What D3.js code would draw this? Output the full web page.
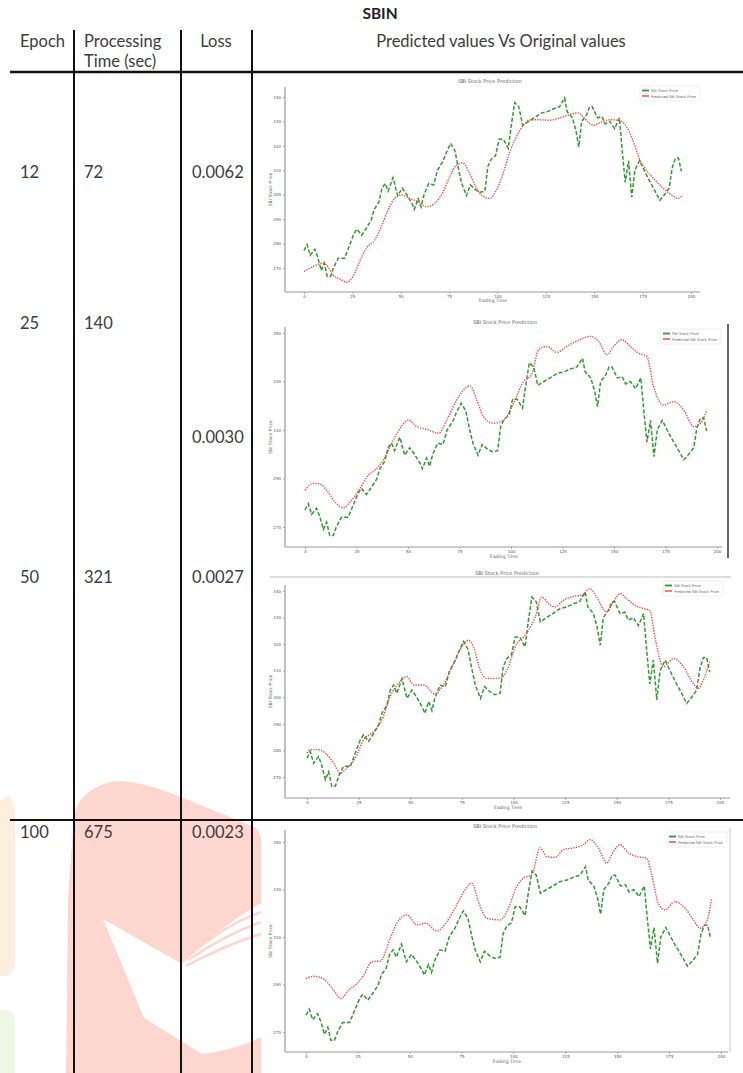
<!DOCTYPE html>
<head>
<meta charset="utf-8">
<style>
body { margin: 0; background: #fff; }
svg { display: block; }
.cell { font-family: Lato, "Open Sans", sans-serif; font-size: 16.5px; fill: #3c3c3c; }
.tiny { font-family: "DejaVu Sans", sans-serif; fill: #666; }
.axis text { font-family: "DejaVu Sans", sans-serif; font-size: 4px; fill: #555; }
.axis line { stroke: #777; stroke-width: 0.6; }
</style>
</head>
<body>
<svg width="743" height="1073"></svg>
<script src="https://cdn.jsdelivr.net/npm/d3@7"></script>
<script>
// table contents
var epochs = ["12", "25", "50", "100"];
var procTimes = ["72", "140", "321", "675"];
var losses = ["0.0062", "0.0030", "0.0027", "0.0023"];

// SBI price, original series (same test set in every chart)
var actualDays = [0,1.6,3.2,5.6,7.3,8.9,10.5,12,13.7,15.3,17.7,21,23.4,25.8,27.4,29.8,32,34.7,36.3,38.7,40.3,42,43.5,46,48.4,50.8,53,56,57,59,60.5,62,64.5,67,69,72,73.4,75.8,78,80,81.5,84,86,88.7,91,93.5,95,96.8,99,100.8,103,105.6,107,108.9,111,113,116,119,122.6,125.8,129,132,134.7,136,138.7,140.6,142,143.5,146,147.6,149,151.6,154,155.6,158,160.5,163,164.5,166,167.7,169.4,171,173.4,175.8,178,180.6,183.9,186.3,188.7,190.3,192,193.5,195];
var actualPrice = [277.1,279.6,275.2,277.7,274,269,272,266.5,266.5,270.2,274,274,279,284,285.9,283.4,286,289.6,294,297,302.7,304.6,301.5,307,299.6,302.7,300.2,296,294,298.4,295,300,304.6,304,310,314,317,321,318,310,304.6,299.6,304,302,301,301.5,311.5,314.6,316,322.7,322.7,319,327.7,337.7,336,328.4,330,331.5,333.4,334,335.2,336,339.6,334,331.5,326,319.6,330,332.7,336,336,331.5,332,329,330,327,331.5,317.7,305,314,299,310,314,310,306.5,302.7,297.7,300,302.7,311,315,315,309.6];

// predicted series, one per epoch setting
var pred12Days = [0,4.7,9.8,11.5,15,19.3,21.9,25.3,28.8,32.2,36.6,40,43.4,46.9,50.3,54.7,59,63.3,67.6,71.9,75.3,78.8,82.2,84.8,88.3,91.7,96,99.5,102.9,106.4,109.8,113.3,116.7,120.2,127,132,137.4,141.7,145,149.5,153.8,158,162.4,166.7,170,173.6,177,181.4,185.7,190,193.4,195.7];
var pred12 = [268.6,270.6,272,271.3,267.2,265.2,264.1,266.5,272.7,278.1,281.5,287,293.7,298.5,299.9,298.5,297.1,295.1,296.5,301.2,307.3,312.1,313,310,304,299.9,298.5,302,308.7,317.6,323.7,328.4,330.5,330.7,330.5,331.4,332.8,333.5,331.2,328.4,329.8,330.7,330.5,327.8,322.3,314.1,310,306,302.6,299.9,298.5,299.9];

var pred25Days = [0,4,7.3,10.5,14.6,18.6,21.9,26.7,30.8,34,38,42.9,47,50.2,54.3,59.1,64.8,68.8,73.7,77.7,80.2,83.4,86.6,91.5,96.4,101.2,106.1,110,113.4,117.4,122.3,127.1,132.8,138.5,142.5,146.6,149.8,153.8,157.9,161.9,166,169.2,174.1,179,183.8,188.7,192,195.1];
var pred25 = [285.2,288,287.7,285.2,280.3,277.9,280.3,285.9,291.4,293.4,297.6,305.9,311.7,314.1,311.4,310.3,308.6,314.1,322.4,327.2,328.2,322.4,315.5,312.8,314.1,321,330,332.8,343.1,344.5,342,344.5,347,348.6,346.6,341,344.5,347.2,344.5,341.7,340.3,328,320.3,321.7,318.3,311.4,312.8,318.3];

var pred50Days = [0,1.6,4.8,8.9,12.9,16.1,19.4,23.4,27.4,32.3,36.3,40.3,45.2,48.4,51.6,56.5,62,66,71,75,78.2,80.6,83.9,87,93.5,96.8,101.6,104.8,107.3,110.5,113.7,117,120,124.2,129,133,137,140.3,145,148.4,151.6,154.8,158.9,163,166,168.5,172.6,177.4,182.3,187,189.5,191.9,195];
var pred50 = [279,280.3,280.3,279,275.3,271.5,273.4,277.1,284,287.1,291.5,300.3,306,307.8,304.6,304.6,301.2,304.6,312.8,319,321.5,319,310.2,307.1,307.1,310.2,320.2,322.7,325.2,330.2,337.7,335.2,334,336.5,338,338.4,340.9,337.7,332.1,336,339,337.1,334.6,333.4,332.7,322.7,311.5,314.6,311.5,305.2,303.4,306.5,313.4];

var pred100Days = [0,3.7,9.3,13.3,16.9,20.5,24.6,27.8,31.8,35.8,40.6,43.8,48.6,53.5,57.5,63.1,67.9,72.7,76.7,79.9,83.1,87.2,93.6,96.8,101.6,104.8,108.8,112.8,116,120,124.1,128.9,133.7,136.9,140.9,144.9,148.2,151.4,155.4,159.4,164.2,166.6,169.8,173,177.8,182.7,186.7,189.9,193.1,195.5];
var pred100 = [292.5,293.5,291.8,287.6,284.1,287.6,290.4,293.9,299.6,299.9,309.4,315.8,319.3,315.1,315.8,312.5,316.5,323.5,329.9,332.7,324.9,317.9,317.2,320.7,331.3,334.8,336.2,347.5,343.9,343.5,346.8,347.5,348.9,351,347.5,341.1,346.1,348.9,345.4,343.9,343.2,336.2,324.2,321.4,324.9,322.1,317.2,313.7,316.5,326.3];

var xTicks = [0, 25, 50, 75, 100, 125, 150, 175, 200];
var yTicksFine = [270, 280, 290, 300, 310, 320, 330, 340];
var yTicksCoarse = [270, 290, 310, 330, 350];

var svg = d3.select("svg");

// faded logo watermark behind the table
var wm = svg.append("g");
wm.append("path")
  .attr("d", "M0,800 L8,796 Q15,800 15,815 L15,960 Q15,975 5,976 L0,976 Z")
  .attr("fill", "#fdeede");
wm.append("path")
  .attr("d", "M0,1010 L8,1010 Q15,1012 15,1025 L15,1073 L0,1073 Z")
  .attr("fill", "#eef8e6");
wm.append("path")
  .attr("d", "M66,1073 L68,900 L74,815 Q80,790 110,782 Q135,778 183,798 L252,826 Q261,830 261,840 L261,1073 Z")
  .attr("fill", "#fdd6d0");
wm.append("path")
  .attr("d", "M103,919 L182,964 Q215,930 261,903 L261,1037 Q235,1050 202,1054 L144,1018 Z")
  .attr("fill", "#fff");
wm.append("path")
  .attr("d", "M190,955 Q225,925 261,912 M188,960 Q225,935 261,922 M186,966 Q225,945 261,934")
  .attr("fill", "none").attr("stroke", "#fdd6d0").attr("stroke-width", 2.5);

// table frame
var grid = svg.append("g").attr("stroke", "#111");
[74, 181, 252].forEach(function(x) {
  grid.append("line").attr("x1", x).attr("x2", x).attr("y1", 30).attr("y2", 1073).attr("stroke-width", 2);
});
grid.append("line").attr("x1", 10).attr("x2", 743).attr("y1", 72).attr("y2", 72).attr("stroke-width", 2.6);
grid.append("line").attr("x1", 10).attr("x2", 743).attr("y1", 820).attr("y2", 820).attr("stroke-width", 2);

// header texts
svg.append("text").attr("class", "cell").attr("x", 380).attr("y", 19)
  .attr("text-anchor", "middle").style("font-weight", "bold").style("font-size", "15.5px").style("fill", "#222").text("SBIN");
svg.append("text").attr("class", "cell").attr("x", 20).attr("y", 47).text("Epoch");
svg.append("text").attr("class", "cell").attr("x", 84).attr("y", 47).text("Processing");
svg.append("text").attr("class", "cell").attr("x", 84).attr("y", 67).text("Time (sec)");
svg.append("text").attr("class", "cell").attr("x", 216).attr("y", 47).attr("text-anchor", "middle").text("Loss");
svg.append("text").attr("class", "cell").attr("x", 501).attr("y", 47).attr("text-anchor", "middle").text("Predicted values Vs Original values");

// body cells
var rowY = [178, 329, 583, 838];
var lossY = [178, 443, 583, 838];
epochs.forEach(function(e, i) {
  svg.append("text").attr("class", "cell").attr("x", 20).attr("y", rowY[i]).text(e);
  svg.append("text").attr("class", "cell").attr("x", 84).attr("y", rowY[i]).text(procTimes[i]);
  svg.append("text").attr("class", "cell").attr("x", 192).attr("y", lossY[i]).text(losses[i]);
});

// image edges of the pasted plots
svg.append("line").attr("x1", 728).attr("x2", 728).attr("y1", 324).attr("y2", 558).attr("stroke", "#333").attr("stroke-width", 1.5);
svg.append("line").attr("x1", 270).attr("x2", 731).attr("y1", 577).attr("y2", 577).attr("stroke", "#bbb").attr("stroke-width", 1.2);
svg.append("line").attr("x1", 730).attr("x2", 730).attr("y1", 828).attr("y2", 1052).attr("stroke", "#ccc").attr("stroke-width", 1);

var panels = [
  {days: pred12Days, pred: pred12, yt: yTicksFine, left: 285, top: 87, bottom: 292, right: 700,
   xr: [304, 691], yr: [268, 97], titleY: 83, titleX: 490, xlabY: 302, legX: 640, legY: 86},
  {days: pred25Days, pred: pred25, yt: yTicksCoarse, left: 285, top: 327, bottom: 547, right: 722,
   xr: [305, 717], yr: [527, 333], titleY: 324, titleX: 505, xlabY: 558, legX: 661, legY: 329},
  {days: pred50Days, pred: pred50, yt: yTicksFine, left: 285, top: 585, bottom: 798, right: 730,
   xr: [307, 720], yr: [777, 591], titleY: 575, titleX: 507, xlabY: 809, legX: 663, legY: 581},
  {days: pred100Days, pred: pred100, yt: yTicksCoarse, left: 285, top: 830, bottom: 1052, right: 728,
   xr: [306, 721], yr: [1032, 842], titleY: 828, titleX: 505, xlabY: 1063, legX: 667, legY: 832}
];

panels.forEach(function(p) {
  var g = svg.append("g");
  var x = d3.scaleLinear().domain([0, 200]).range(p.xr);
  var y = d3.scaleLinear().domain([p.yt[0], p.yt[p.yt.length - 1]]).range(p.yr);

  g.append("g").attr("class", "axis").attr("transform", "translate(" + p.left + ",0)")
    .call(d3.axisLeft(y).tickValues(p.yt).tickSize(2).tickPadding(2))
    .call(function(a) { a.select(".domain").remove(); });
  g.append("g").attr("class", "axis").attr("transform", "translate(0," + p.bottom + ")")
    .call(d3.axisBottom(x).tickValues(xTicks).tickSize(2).tickPadding(1.5))
    .call(function(a) { a.select(".domain").remove(); });

  g.append("line").attr("x1", p.left).attr("x2", p.left).attr("y1", p.top).attr("y2", p.bottom)
    .attr("stroke", "#999").attr("stroke-width", 1.2);
  g.append("line").attr("x1", p.left).attr("x2", p.right).attr("y1", p.bottom).attr("y2", p.bottom)
    .attr("stroke", "#999").attr("stroke-width", 1.2);

  g.append("text").attr("class", "tiny").attr("x", p.titleX).attr("y", p.titleY)
    .attr("text-anchor", "middle").style("font-size", "5px").text("SBI Stock Price Prediction");
  g.append("text").attr("class", "tiny").attr("x", (p.left + p.right) / 2).attr("y", p.xlabY)
    .attr("text-anchor", "middle").style("font-size", "4.5px").text("Trading Time");
  g.append("text").attr("class", "tiny")
    .attr("transform", "translate(" + (p.left - 13) + "," + ((p.top + p.bottom) / 2) + ") rotate(-90)")
    .attr("text-anchor", "middle").style("font-size", "4.5px").text("SBI Stock Price");

  var line = d3.line().x(function(d) { return x(d[0]); }).y(function(d) { return y(d[1]); });
  g.append("path").datum(d3.zip(actualDays, actualPrice))
    .attr("d", line).attr("fill", "none").attr("stroke", "#2e9b2e")
    .attr("stroke-width", 1.5).attr("stroke-dasharray", "4 2");
  g.append("path").datum(d3.zip(p.days, p.pred))
    .attr("d", line.curve(d3.curveMonotoneX)).attr("fill", "none").attr("stroke", "#ff3b3b")
    .attr("stroke-width", 1.4).attr("stroke-dasharray", "1.3 1.3");

  // legend
  var lg = g.append("g").attr("transform", "translate(" + p.legX + "," + p.legY + ")");
  lg.append("rect").attr("width", 60).attr("height", 15).attr("rx", 1)
    .attr("fill", "#fff").attr("stroke", "#e4e4e4").attr("stroke-width", 0.6);
  lg.append("line").attr("x1", 2).attr("x2", 9).attr("y1", 4.5).attr("y2", 4.5)
    .attr("stroke", "#2e9b2e").attr("stroke-width", 1.8);
  lg.append("line").attr("x1", 2).attr("x2", 9).attr("y1", 10).attr("y2", 10)
    .attr("stroke", "#ff3b3b").attr("stroke-width", 1.4);
  lg.append("text").attr("class", "tiny").attr("x", 11).attr("y", 6).style("font-size", "3.6px").text("SBI Stock Price");
  lg.append("text").attr("class", "tiny").attr("x", 11).attr("y", 11.5).style("font-size", "3.6px").text("Predicted SBI Stock Price");
});
</script>
</body>
